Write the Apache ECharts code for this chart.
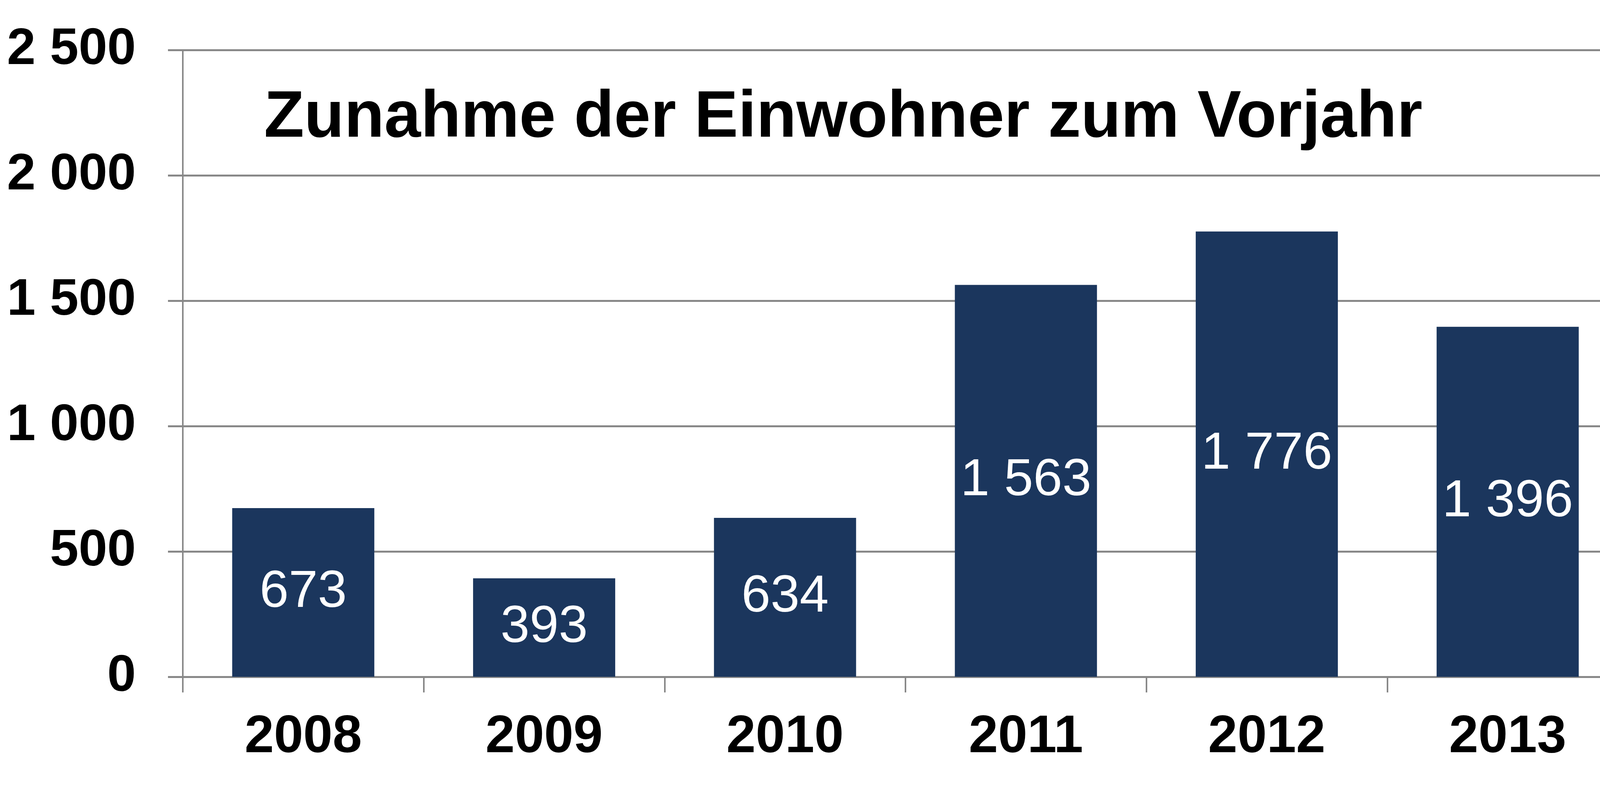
<!DOCTYPE html>
<html>
<head>
    <title></title>
    <meta charset="UTF-8">
    <script type="text/javascript" src="https://cdn.jsdelivr.net/npm/echarts/dist/echarts.min.js"></script>
    <style type="text/css">
        body {
            margin: 0;
            padding: 0;
            background: #ffffff;
        }
        #zunahme_chart {
            width: 6105px;
            height: 2010px;
        }
    </style>
</head>
<body>
<div id="zunahme_chart"></div>

<script type="text/javascript">
    var jahre = ['2008', '2009', '2010', '2011', '2012', '2013', '2014', '2015', '2016'];
    var zunahme = [673, 393, 634, 1563, 1776, 1396, 2095, 1600, 1803];
    var yTicks = [0, 500, 1000, 1500, 2000, 2500];

    // Tausender mit Leerzeichen: 1 563
    function tausender(v) {
        return String(v).replace(/\B(?=(\d{3})+(?!\d))/g, ' ');
    }

    var schrift = '"Liberation Sans", Arial, sans-serif';
    var grau = '#888888';

    var balken = [];
    for (var i = 0; i < zunahme.length; i++) {
        var item = { value: zunahme[i] };
        if (jahre[i] == '2016') {
            // Beschriftung im Original etwas nach oben gerückt
            item.label = { offset: [0, -44] };
        }
        balken.push(item);
    }

    var chart = echarts.init(document.getElementById('zunahme_chart'));
    chart.setOption({
        animation: false,
        backgroundColor: '#ffffff',
        title: {
            text: 'Zunahme der Einwohner zum Vorjahr',
            left: 676,
            top: 220,
            padding: 0,
            textStyle: {
                fontFamily: schrift,
                fontSize: 168,
                fontWeight: 'bold',
                color: '#000000'
            }
        },
        grid: {
            left: 468,
            right: 87,
            top: 128,
            bottom: 277,
            containLabel: false
        },
        xAxis: {
            type: 'category',
            data: jahre,
            axisLine: {
                lineStyle: { color: grau, width: 5 }
            },
            axisTick: {
                show: true,
                length: 40,
                lineStyle: { color: grau, width: 4 }
            },
            axisLabel: {
                margin: 88,
                fontFamily: schrift,
                fontSize: 135,
                fontWeight: 'bold',
                color: '#000000'
            }
        },
        yAxis: {
            type: 'value',
            min: yTicks[0],
            max: yTicks[yTicks.length - 1],
            interval: yTicks[1] - yTicks[0],
            axisLine: {
                show: true,
                lineStyle: { color: grau, width: 4 }
            },
            axisTick: {
                show: true,
                length: 38,
                lineStyle: { color: grau, width: 5 }
            },
            splitLine: {
                lineStyle: { color: grau, width: 5 }
            },
            axisLabel: {
                margin: 120,
                fontFamily: schrift,
                fontSize: 132,
                fontWeight: 'bold',
                color: '#000000',
                formatter: function (v) { return tausender(v); }
            }
        },
        series: [{
            name: 'Zunahme',
            type: 'bar',
            data: balken,
            barCategoryGap: '41%',
            itemStyle: { color: '#1b365d' },
            label: {
                show: true,
                position: 'inside',
                fontFamily: schrift,
                fontSize: 134,
                color: '#ffffff',
                formatter: function (p) { return tausender(p.value); }
            }
        }]
    });
</script>

</body>
</html>
